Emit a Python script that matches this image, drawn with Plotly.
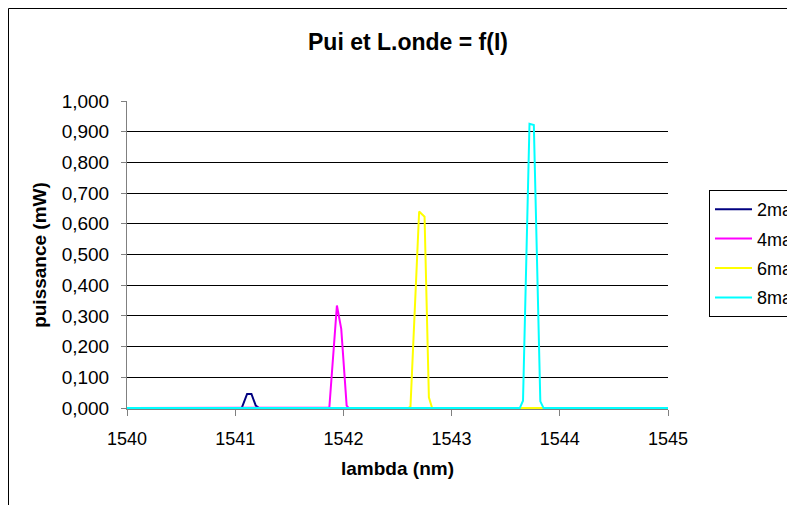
import plotly.graph_objects as go

# ---- data ----
series_names = ["2ma", "4ma", "6ma", "8ma"]
series_colors = ["#000080", "#FF00FF", "#FFFF00", "#00FFFF"]

x_2ma = [1540.0, 1541.06, 1541.11, 1541.15, 1541.19, 1541.22, 1545.0]
y_2ma = [0.0, 0.0, 0.046, 0.046, 0.008, 0.0, 0.0]

x_4ma = [1540.0, 1541.85, 1541.87, 1541.94, 1541.98, 1542.03, 1542.05, 1545.0]
y_4ma = [0.0, 0.0, 0.002, 0.334, 0.258, 0.008, 0.0, 0.0]

x_6ma = [1540.0, 1542.60, 1542.62, 1542.70, 1542.75, 1542.79, 1542.82, 1545.0]
y_6ma = [0.0, 0.0, 0.005, 0.640, 0.623, 0.035, 0.0, 0.0]

x_8ma = [1540.0, 1543.63, 1543.66, 1543.72, 1543.76, 1543.82, 1543.85, 1545.0]
y_8ma = [0.0, 0.0, 0.024, 0.926, 0.922, 0.022, 0.0, 0.0]

x_ticks = [1540, 1541, 1542, 1543, 1544, 1545]
y_ticks = [0.0, 0.1, 0.2, 0.3, 0.4, 0.5, 0.6, 0.7, 0.8, 0.9, 1.0]

title_text = "Pui et L.onde = f(I)"
x_title = "lambda (nm)"
y_title = "puissance (mW)"

xs = [x_2ma, x_4ma, x_6ma, x_8ma]
ys = [y_2ma, y_4ma, y_6ma, y_8ma]

FONT = "Liberation Sans, Arial, sans-serif"
OFF = 8  # page body margin offset
W, H = 795 - OFF, 505 - OFF
ML, MT = 127 - OFF, 101 - OFF
PW, PH = 541, 308
MR = W - ML - PW
MB = H - MT - PH


def px_x(p):  # screen pixel -> paper
    return (p - OFF - ML) / PW


def px_y(p):
    return (MT + PH - (p - OFF)) / PH


fig = go.Figure()
for i, name in enumerate(series_names):
    fig.add_trace(go.Scatter(
        x=xs[i], y=ys[i], mode="lines", name=name,
        line=dict(color=series_colors[i], width=2),
        legendgroup=name,
    ))

fig.update_layout(
    width=W, height=H,
    margin=dict(l=ML, r=MR, t=MT, b=MB, autoexpand=False),
    paper_bgcolor="white", plot_bgcolor="white",
    separators=", ",
    font=dict(family=FONT, size=18, color="black"),
    showlegend=True,
    legend=dict(
        x=px_x(709), y=px_y(190), xanchor="left", yanchor="top",
        bordercolor="black", borderwidth=1, bgcolor="white",
        font=dict(family=FONT, size=18, color="black"),
        tracegroupgap=3, itemwidth=37,
    ),
    xaxis=dict(
        range=[1540, 1545], tickvals=x_ticks, ticktext=[str(v) for v in x_ticks],
        showgrid=False, zeroline=False, showline=True, linecolor="#808080", linewidth=1,
        ticks="outside", ticklen=6, tickcolor="#808080", ticklabelstandoff=7,
        tickfont=dict(family=FONT, size=18, color="black"),
        title=dict(text="<b>" + x_title + "</b>", font=dict(family=FONT, size=19, color="black"), standoff=14),
    ),
    yaxis=dict(
        range=[-0.003, 1.0], tickvals=y_ticks, tickformat=".3f",
        showgrid=True, gridcolor="black", gridwidth=1,
        zeroline=False, showline=True, linecolor="#808080", linewidth=1,
        ticks="outside", ticklen=5, tickcolor="#808080", ticklabelstandoff=8,
        tickfont=dict(family=FONT, size=19, color="black"),
        title=dict(text="<b>" + y_title + "</b>", font=dict(family=FONT, size=19, color="black"), standoff=10),
    ),
    shapes=[dict(
        type="rect", xref="paper", yref="paper",
        x0=px_x(8.5), x1=px_x(830), y0=px_y(540), y1=px_y(8.5),
        line=dict(color="black", width=1), fillcolor="rgba(0,0,0,0)", layer="below",
    )],
    annotations=[dict(
        text="<b>" + title_text + "</b>", xref="paper", yref="paper",
        x=px_x(408), y=px_y(42), xanchor="center", yanchor="middle",
        showarrow=False, font=dict(family=FONT, size=23, color="black"),
    )],
)

fig.write_html("out.html")
